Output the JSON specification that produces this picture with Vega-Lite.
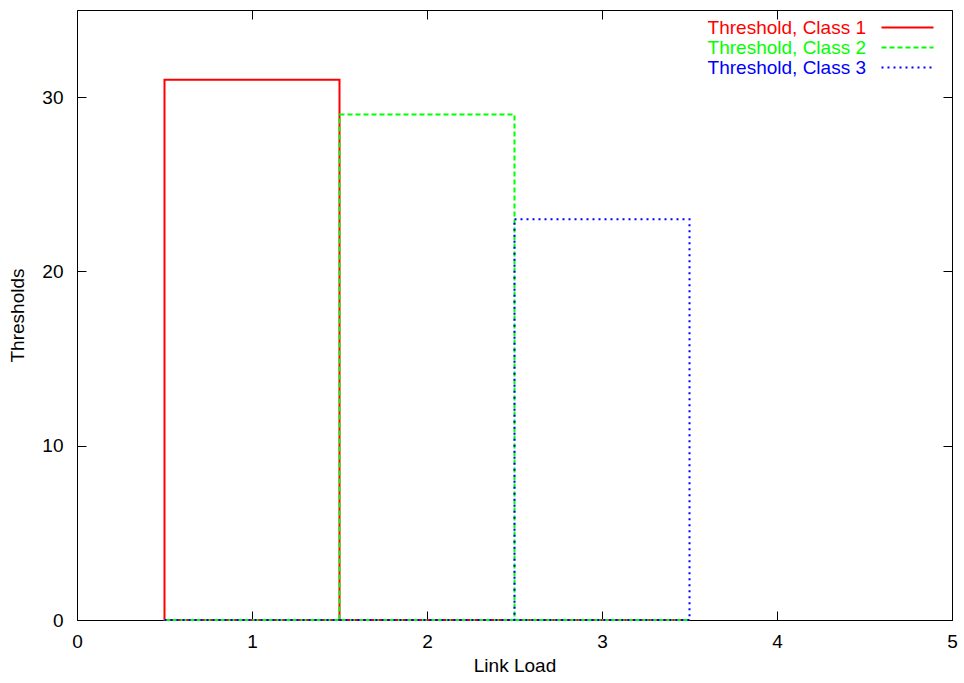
{
  "$schema": "https://vega.github.io/schema/vega-lite/v6.json",
  "width": 875,
  "height": 610,
  "autosize": {"type": "none"},
  "padding": {"left": 77, "top": 10, "right": 12, "bottom": 63},
  "config": {
    "font": "Liberation Sans",
    "view": {"stroke": "black", "strokeWidth": 1},
    "axis": {
      "domain": false,
      "grid": false,
      "tickColor": "black",
      "tickWidth": 1,
      "tickSize": -9,
      "labelFlush": false,
      "labelColor": "black",
      "labelFontSize": 19,
      "titleColor": "black",
      "titleFontSize": 19,
      "titleFontWeight": "normal"
    }
  },
  "data": {
    "values": [
      {"series": "Threshold, Class 1", "start": 0.5, "end": 1.5, "value": 31},
      {"series": "Threshold, Class 1", "start": 1.5, "end": 2.5, "value": 0},
      {"series": "Threshold, Class 1", "start": 2.5, "end": 3.5, "value": 0},
      {"series": "Threshold, Class 2", "start": 0.5, "end": 1.5, "value": 0},
      {"series": "Threshold, Class 2", "start": 1.5, "end": 2.5, "value": 29},
      {"series": "Threshold, Class 2", "start": 2.5, "end": 3.5, "value": 0},
      {"series": "Threshold, Class 3", "start": 0.5, "end": 1.5, "value": 0},
      {"series": "Threshold, Class 3", "start": 1.5, "end": 2.5, "value": 0},
      {"series": "Threshold, Class 3", "start": 2.5, "end": 3.5, "value": 23}
    ]
  },
  "encoding": {
    "x": {
      "field": "start", "type": "quantitative",
      "scale": {"domain": [0, 5], "nice": false, "zero": false},
      "axis": null
    },
    "x2": {"field": "end"},
    "y": {
      "field": "value", "type": "quantitative",
      "scale": {"domain": [0, 35], "nice": false},
      "axis": null
    },
    "y2": {"datum": 0}
  },
  "layer": [
    {
      "transform": [{"filter": "datum.series === 'Threshold, Class 1'"}],
      "mark": {"type": "rect", "filled": false, "strokeWidth": 2},
      "encoding": {
        "x": {
          "field": "start", "type": "quantitative",
          "axis": {"orient": "bottom", "values": [0, 1, 2, 3, 4, 5], "format": "d", "title": "Link Load", "labelPadding": 21, "titlePadding": 5}
        },
        "y": {
          "field": "value", "type": "quantitative",
          "axis": {"orient": "left", "values": [0, 10, 20, 30], "format": "d", "title": "Thresholds", "labelPadding": 23, "titlePadding": 14}
        },
        "stroke": {
          "field": "series", "type": "nominal",
          "scale": {"domain": ["Threshold, Class 1", "Threshold, Class 2", "Threshold, Class 3"], "range": ["#ff0000", "#00ff00", "#0000ff"]},
          "legend": {
            "title": null,
            "orient": "none",
            "legendX": 821,
            "legendY": 8,
            "padding": 0,
            "symbolType": "M-4,0H4",
            "symbolSize": 169,
            "symbolStrokeWidth": 2,
            "labelAlign": "right",
            "labelOffset": -51,
            "labelFontSize": 19,
            "rowPadding": -2,
            "labelLimit": 300,
            "encode": {
              "labels": {"update": {"fill": {"signal": "scale('stroke', datum.value)"}}},
              "symbols": {"update": {"strokeDash": {"signal": "datum.value === 'Threshold, Class 2' ? [5, 3] : datum.value === 'Threshold, Class 3' ? [2, 4] : [1, 0]"}}}
            }
          }
        }
      }
    },
    {
      "transform": [{"filter": "datum.series === 'Threshold, Class 2'"}],
      "mark": {"type": "rect", "filled": false, "strokeWidth": 2, "strokeDash": [5, 3]},
      "encoding": {
        "stroke": {"field": "series", "type": "nominal"}
      }
    },
    {
      "transform": [{"filter": "datum.series === 'Threshold, Class 3'"}],
      "mark": {"type": "rect", "filled": false, "strokeWidth": 2, "strokeDash": [2, 4]},
      "encoding": {
        "stroke": {"field": "series", "type": "nominal"}
      }
    },
    {
      "mark": {"type": "rect", "filled": false, "strokeWidth": 0, "opacity": 0},
      "encoding": {
        "x": {
          "field": "start", "type": "quantitative",
          "axis": {"orient": "top", "values": [0, 1, 2, 3, 4, 5], "labels": false, "title": null}
        },
        "y": {
          "field": "value", "type": "quantitative",
          "axis": {"orient": "right", "values": [0, 10, 20, 30], "labels": false, "title": null}
        }
      }
    }
  ],
  "resolve": {"axis": {"x": "independent", "y": "independent"}}
}
